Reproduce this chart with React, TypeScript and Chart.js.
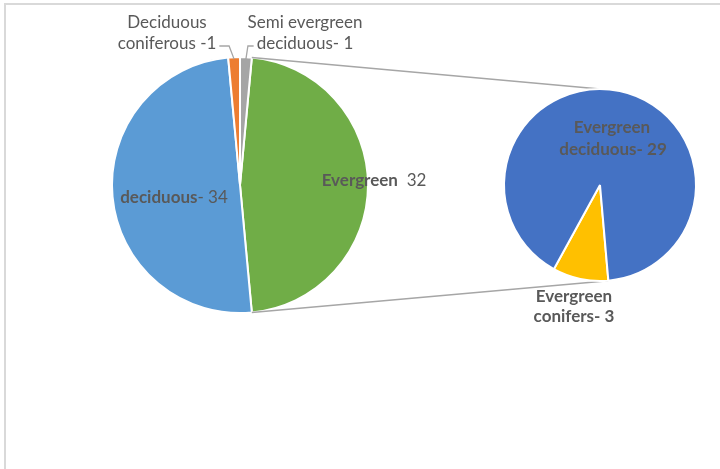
import React, { useEffect, useRef } from "react";
import { Chart, registerables } from "chart.js";
Chart.register(...registerables);

// ---- data ----
const mainLabels = ["Evergreen", "deciduous", "Deciduous coniferous", "Semi evergreen deciduous"];
const mainValues = [32, 34, 1, 1];
const mainColors = ["#70ad47", "#5b9bd5", "#ed7d31", "#a5a5a5"];

const subLabels = ["Evergreen conifers", "Evergreen deciduous"];
const subValues = [3, 29];
const subColors = ["#ffc000", "#4472c4"];

const FONT = 'Lato, "Liberation Sans", sans-serif';
const FS = 17;
const TEXT = "#595959";
const LINE = "#a6a6a6";

type Seg = { t: string; b?: boolean };

function drawRich(ctx: CanvasRenderingContext2D, segs: Seg[], cx: number, baseline: number) {
  let total = 0;
  const widths = segs.map((s) => {
    ctx.font = `${s.b ? "bold " : ""}${FS}px ${FONT}`;
    const w = ctx.measureText(s.t).width;
    total += w;
    return w;
  });
  let x = cx - total / 2;
  ctx.textAlign = "left";
  ctx.textBaseline = "alphabetic";
  ctx.fillStyle = TEXT;
  segs.forEach((s, i) => {
    ctx.font = `${s.b ? "bold " : ""}${FS}px ${FONT}`;
    ctx.fillText(s.t, x, baseline);
    x += widths[i];
  });
  return { left: cx - total / 2, right: cx + total / 2 };
}

function pt(a: any, ang: number) {
  return { x: a.x + a.outerRadius * Math.cos(ang), y: a.y + a.outerRadius * Math.sin(ang) };
}

export default function App() {
  const mainRef = useRef<HTMLCanvasElement>(null);
  const subRef = useRef<HTMLCanvasElement>(null);

  useEffect(() => {
    const total = mainValues.reduce((a, b) => a + b, 0);
    const mainRotation = 90 - (mainValues[0] / total) * 180;

    const main = new Chart(mainRef.current!, {
      type: "pie",
      data: {
        labels: mainLabels,
        datasets: [
          {
            data: mainValues,
            backgroundColor: mainColors,
            borderColor: "#ffffff",
            borderWidth: 2,
          },
        ],
      },
      options: {
        responsive: false,
        animation: false,
        events: [],
        rotation: mainRotation,
        radius: 128,
        layout: { padding: { left: 0, right: 240, top: 0, bottom: 99 } },
        plugins: { legend: { display: false }, tooltip: { enabled: false } },
      } as any,
    });

    const overlay = {
      id: "overlay",
      beforeDatasetsDraw(chart: any) {
        const ctx: CanvasRenderingContext2D = chart.ctx;
        const m = main.getDatasetMeta(0).data as any[];
        const s = chart.getDatasetMeta(0).data as any[];
        const g = m[0];
        const p1 = pt(g, g.startAngle);
        const p2 = pt(g, g.endAngle);
        const sa = s[0];
        const top = { x: sa.x, y: sa.y - sa.outerRadius };
        const bot = pt(sa, sa.startAngle);
        ctx.save();
        ctx.strokeStyle = LINE;
        ctx.lineWidth = 1.5;
        ctx.beginPath();
        ctx.moveTo(p1.x, p1.y);
        ctx.lineTo(top.x, top.y);
        ctx.moveTo(p2.x, p2.y);
        ctx.lineTo(bot.x, bot.y);
        ctx.stroke();
        ctx.restore();
      },
      afterDraw(chart: any) {
        const ctx: CanvasRenderingContext2D = chart.ctx;
        const m = main.getDatasetMeta(0).data as any[];
        const s = chart.getDatasetMeta(0).data as any[];
        const cx = m[0].x, cy = m[0].y;
        ctx.save();
        // main pie labels
        drawRich(ctx, [{ t: mainLabels[1], b: true }, { t: `- ${mainValues[1]}` }], cx - 66, cy + 18);
        drawRich(ctx, [{ t: mainLabels[0], b: true }, { t: `  ${mainValues[0]}` }], cx + 134, cy + 1);
        drawRich(ctx, [{ t: "Deciduous" }], cx - 73, cy - 157);
        const l2 = drawRich(ctx, [{ t: `coniferous -${mainValues[2]}` }], cx - 73, cy - 136);
        drawRich(ctx, [{ t: "Semi evergreen" }], cx + 65, cy - 157);
        const r2 = drawRich(ctx, [{ t: `deciduous- ${mainValues[3]}` }], cx + 65, cy - 136);
        // leader lines
        const o = m[2];
        const gr = m[3];
        const om = pt(o, (o.startAngle + o.endAngle) / 2);
        const gm = pt(gr, (gr.startAngle + gr.endAngle) / 2);
        ctx.strokeStyle = LINE;
        ctx.lineWidth = 1.3;
        ctx.beginPath();
        ctx.moveTo(l2.right + 3, cy - 139);
        ctx.lineTo(om.x - 5, cy - 139);
        ctx.lineTo(om.x, om.y + 2);
        ctx.moveTo(r2.left - 3, cy - 139);
        ctx.lineTo(gm.x + 2, cy - 139);
        ctx.lineTo(gm.x, gm.y + 2);
        ctx.stroke();
        // sub pie labels
        const sx = s[0].x, sy = s[0].y;
        drawRich(ctx, [{ t: "Evergreen", b: true }], sx + 12, sy - 52);
        drawRich(ctx, [{ t: `deciduous- ${subValues[1]}`, b: true }], sx + 13, sy - 30);
        drawRich(ctx, [{ t: "Evergreen", b: true }], sx - 26, sy + 117);
        drawRich(ctx, [{ t: `conifers- ${subValues[0]}`, b: true }], sx - 26, sy + 137);
        ctx.restore();
      },
    };

    const sub = new Chart(subRef.current!, {
      type: "pie",
      data: {
        labels: subLabels,
        datasets: [
          {
            data: subValues,
            backgroundColor: subColors,
            borderColor: "#ffffff",
            borderWidth: 2,
          },
        ],
      },
      options: {
        responsive: false,
        animation: false,
        events: [],
        rotation: 175,
        radius: 96,
        layout: { padding: { left: 480, right: 0, top: 0, bottom: 99 } },
        plugins: { legend: { display: false }, tooltip: { enabled: false } },
      } as any,
      plugins: [overlay],
    });

    return () => {
      sub.destroy();
      main.destroy();
    };
  }, []);

  const cs: React.CSSProperties = { position: "absolute", left: 0, top: 0, width: 720, height: 469 };
  return (
    <div style={{ position: "absolute", left: 0, top: 0, width: 720, height: 469, overflow: "hidden", background: "#fff" }}>
      <div
        style={{
          position: "absolute",
          left: 4,
          top: 3,
          width: 1000,
          height: 1000,
          borderLeft: "2px solid #d9d9d9",
          borderTop: "2px solid #d9d9d9",
        }}
      />
      <canvas ref={mainRef} width={720} height={469} style={cs} />
      <canvas ref={subRef} width={720} height={469} style={cs} />
    </div>
  );
}
